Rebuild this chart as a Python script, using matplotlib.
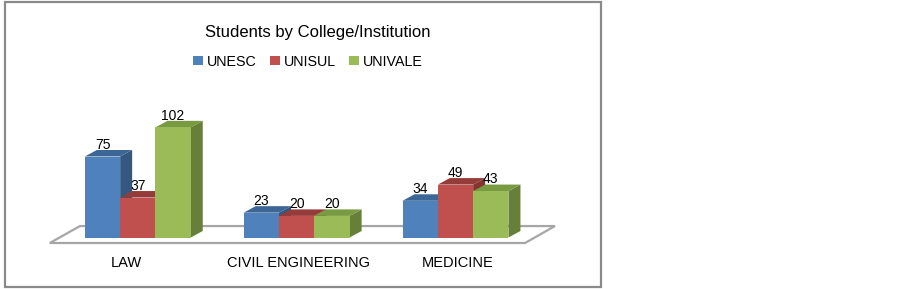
import matplotlib.pyplot as plt
from matplotlib.patches import Rectangle, Polygon, Patch

plt.rcParams['font.family'] = ['Liberation Sans', 'DejaVu Sans']

categories = ['LAW', 'CIVIL ENGINEERING', 'MEDICINE']
series = ['UNESC', 'UNISUL', 'UNIVALE']
unesc = [75, 23, 34]
unisul = [37, 20, 49]
univale = [102, 20, 43]
values = [unesc, unisul, univale]

# front / top / side shades per series (Excel-like 3D look)
front = ['#4F81BD', '#C0504D', '#9BBB59']
top = ['#3C6695', '#953C3A', '#789A41']
side = ['#34587F', '#843432', '#66803A']

W, H = 903, 289
fig = plt.figure(figsize=(W / 100, H / 100), dpi=100)
ax = fig.add_axes([0, 0, 1, 1])

# data -> pixel mapping: x px = 137.8 + 158.85 * x ; y px = 237.5 - 1.08 * v
sx, x0 = 158.85, 137.8
sy, y0 = 1.08, 237.5
ax.set_xlim(-x0 / sx, (W - x0) / sx)
ax.set_ylim(-(H - y0) / sy, y0 / sy)
ax.axis('off')

bw = 35.3 / sx       # bar width
dx = 12 / sx         # depth shift to the right
dy = 6.5 / sy        # depth shift upward

# floor
floor = Polygon([(-0.554, -5.1), (2.438, -5.1), (2.626, 10.6), (-0.364, 10.6)],
                closed=True, facecolor='white', edgecolor='#A6A6A6', lw=1.6, zorder=1)
ax.add_patch(floor)

z = 2
for i in range(len(categories)):
    for j in range(len(series)):
        v = values[j][i]
        xl = i - 1.5 * bw + j * bw
        xr = xl + bw
        ax.add_patch(Polygon([(xr, 0), (xr, v), (xr + dx, v + dy), (xr + dx, dy)],
                             closed=True, facecolor=side[j], edgecolor='none', zorder=z))
        ax.add_patch(Polygon([(xl, v), (xr, v), (xr + dx, v + dy), (xl + dx, v + dy)],
                             closed=True, facecolor=top[j], edgecolor='none', zorder=z + 1))
        ax.add_patch(Rectangle((xl, 0), bw, v, facecolor=front[j], edgecolor='none', zorder=z + 2))
        ax.text(xl + bw / 2, v + dy + 1.2, str(v), ha='center', va='baseline',
                fontsize=10, color='black', zorder=50)
        z += 3

label_shift = [-0.075, 0.01, 0.012]
for i, cat in enumerate(categories):
    ax.text(i + label_shift[i], -(263 - y0) / sy, cat, ha='center', va='center', fontsize=10.5)

fig.text(318 / W, 1 - 33 / H, 'Students by College/Institution', ha='center', va='center', fontsize=12)

handles = [Patch(facecolor=c, edgecolor='none') for c in front]
fig.legend(handles, series, loc='center', bbox_to_anchor=(308 / W, 1 - 62 / H), ncol=3,
           frameon=False, fontsize=10.3, handlelength=0.7, handleheight=0.6,
           handletextpad=0.3, columnspacing=0.9)

# outer chart border
fig.patches.append(Rectangle((5 / W, 2 / H), 596 / W, 285 / H, transform=fig.transFigure,
                             fill=False, edgecolor='#8A8A8A', lw=1.6))

fig.savefig('out.png', dpi=100)
